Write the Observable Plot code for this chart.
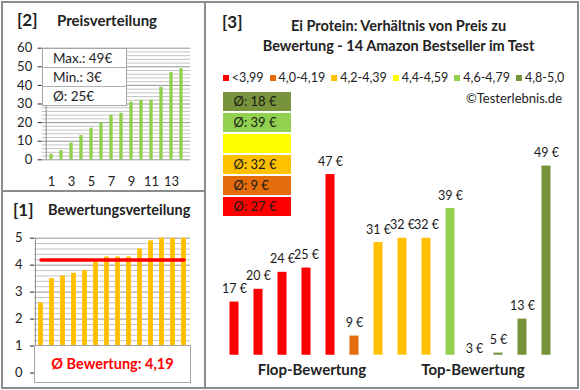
<!DOCTYPE html>
<html>
<head>
<meta charset="utf-8">
<script src="https://cdn.jsdelivr.net/npm/d3@7"></script>
<script src="https://cdn.jsdelivr.net/npm/@observablehq/plot@0.6"></script>
<style>
  body { margin: 0; background: #fff; }
  #root { position: relative; width: 580px; height: 390px; background: #fff; overflow: hidden;
          font-family: Lato, "Liberation Sans", sans-serif; color: #222; }
  .abs { position: absolute; }
  .ttl { font-weight: bold; white-space: nowrap; }
  .legend { display: flex; justify-content: center; align-items: center; gap: 6px; font-size: 12.5px; white-space: nowrap; }
  .legend > span { flex: none; white-space: nowrap; }
  .legend .sw { display: inline-block; width: 6px; height: 6px; margin-right: 3px; vertical-align: middle; }
  .statbox { border: 1px solid #a6a6a6; background: #fff; box-sizing: border-box; }
  .statbox div { height: 19px; line-height: 19px; padding-left: 10px; font-size: 13.5px; border-bottom: 1px solid #b0b0b0; box-sizing: border-box; }
  .statbox div:last-child { border-bottom: none; }
</style>
</head>
<body>
<div id="root"></div>
<script>
// ---------- data ----------
const prices  = [17, 20, 24, 25, 47, 9, 31, 32, 32, 39, 3, 5, 13, 49];
const ratings = [3.8, 3.7, 3.6, 3.5, 2.6, 4.1, 4.3, 4.3, 4.3, 4.6, 5.0, 5.0, 4.9, 5.0];
const classLabels = ["<3,99", "4,0-4,19", "4,2-4,39", "4,4-4,59", "4,6-4,79", "4,8-5,0"];
const classColors = ["#FF0000", "#E46C0A", "#FFC000", "#FFFF00", "#92D050", "#77933C"];
const classBreaks = [4.0, 4.2, 4.4, 4.6, 4.8];
const priceTicks = [0, 10, 20, 30, 40, 50, 60];
const ratingTicks = [0, 1, 2, 3, 4, 5];
const rankLabels = [1, 3, 5, 7, 9, 11, 13];
const chartTitle = ["Ei Protein: Verhältnis von Preis zu", "Bewertung - 14 Amazon Bestseller im Test"];

const FONT = 'Lato, "Liberation Sans", sans-serif';
const root = document.getElementById("root");

function add(html, style, cls) {
  const d = document.createElement("div");
  d.className = "abs " + (cls || "");
  Object.assign(d.style, style);
  d.innerHTML = html;
  root.appendChild(d);
  return d;
}
function place(svg, left, top) {
  const d = add("", {left: left + "px", top: top + "px"});
  d.appendChild(svg);
}

// products
const products = prices.map((p, i) => ({price: p, rating: ratings[i], cls: d3.bisectRight(classBreaks, ratings[i])}));
const sortedPrices = prices.slice().sort((a, b) => a - b).map((p, i) => ({rank: i + 1, price: p}));
const sortedRatings = ratings.slice().sort((a, b) => a - b).map((r, i) => ({rank: i + 1, rating: r}));
const meanPrice = d3.mean(prices);
const meanRating = d3.mean(ratings);

// ---------- panel [2] Preisverteilung ----------
add("[2]", {left: "17px", top: "9px", fontSize: "17px", lineHeight: "22px"}, "ttl");
add("Preisverteilung", {left: "57px", top: "11px", fontSize: "15px", lineHeight: "18px"}, "ttl");

const p2 = Plot.plot({
  width: 200, height: 150,
  marginLeft: 41.7, marginRight: 9.7, marginTop: 7.7, marginBottom: 30.7,
  style: {fontFamily: FONT, fontSize: "13px", color: "#222", background: "transparent"},
  color: {type: "identity"},
  x: {type: "band", domain: d3.range(1, 15), padding: 0, tickSize: 0, tickPadding: 17,
      tickFormat: d => rankLabels.includes(d) ? d : "", label: null},
  y: {domain: [0, 60], ticks: priceTicks, tickSize: 4, tickPadding: 6, label: null},
  marks: [
    Plot.ruleY(d3.range(0, 61, 2).filter(v => v % 10), {stroke: "#c4c4c4"}),
    Plot.ruleY(priceTicks, {stroke: "#959595"}),
    Plot.ruleX([1], {dx: -148.6 / 28, stroke: "#8c8c8c"}),
    Plot.barY(sortedPrices, {x: "rank", y: "price", fill: "#92D050", insetLeft: 3.3, insetRight: 3.3})
  ]
});
place(p2, 0, 40);

add(`<div>Max.: ${d3.max(prices)}€</div><div>Min.: ${d3.min(prices)}€</div><div>Ø: ${Math.round(meanPrice)}€</div>`,
  {left: "42px", top: "48px", width: "85px", height: "58px"}, "statbox");

// ---------- panel [1] Bewertungsverteilung ----------
add("[1]", {left: "13px", top: "199px", fontSize: "17px", lineHeight: "22px"}, "ttl");
add("Bewertungsverteilung", {left: "48px", top: "201px", fontSize: "14.5px", lineHeight: "18px"}, "ttl");

const p1 = Plot.plot({
  width: 200, height: 160,
  marginLeft: 34, marginRight: 10, marginTop: 12.7, marginBottom: 12.5,
  style: {fontFamily: FONT, fontSize: "13px", color: "#222", background: "transparent"},
  x: {type: "band", domain: d3.range(1, 15), padding: 0, axis: null},
  y: {domain: [0, 5], ticks: ratingTicks, tickFormat: d => String(d), tickSize: 4, tickPadding: 8, label: null},
  marks: [
    Plot.ruleY(d3.range(1, 25).map(v => v / 5).filter(v => Math.abs(v - Math.round(v)) > 1e-6), {stroke: "#c4c4c4"}),
    Plot.ruleY(ratingTicks, {stroke: "#959595"}),
    Plot.ruleX([1], {dx: -156 / 28, stroke: "#8c8c8c"}),
    Plot.barY(sortedRatings, {x: "rank", y: "rating", fill: "#FFC000", insetLeft: 3.1, insetRight: 3.1}),
    Plot.line(sortedRatings, {x: "rank", y: () => meanRating, stroke: "#FF0000", strokeWidth: 3.5})
  ]
});
place(p1, 0, 225);

add(`Ø Bewertung: ${meanRating.toFixed(2).replace(".", ",")}`,
  {left: "34px", top: "345px", width: "157px", height: "38px", lineHeight: "36px", textAlign: "center",
   color: "#FF0000", fontWeight: "bold", fontSize: "14.5px", border: "1px solid #a6a6a6", background: "#fff", boxSizing: "border-box"});

// ---------- panel [3] ----------
add("[3]", {left: "222px", top: "11px", fontSize: "17px", lineHeight: "22px"}, "ttl");
add(chartTitle.join("<br>"), {left: "211px", top: "16px", width: "375px", textAlign: "center",
  fontSize: "14.5px", lineHeight: "20px"}, "ttl");

add(classLabels.map((l, i) => `<span><span class="sw" style="background:${classColors[i]}"></span>${l}</span>`).join(""),
  {left: "206px", top: "68px", width: "375px", height: "18px"}, "legend");
add("©Testerlebnis.de", {left: "400px", width: "162px", top: "89px", textAlign: "right", fontSize: "13px", lineHeight: "18px"});

// average boxes per class
const classes = classLabels.map((label, i) => {
  const ps = products.filter(d => d.cls === i).map(d => d.price);
  return {label, color: classColors[i], avg: ps.length ? Math.round(d3.mean(ps)) : null};
});
const pBox = Plot.plot({
  width: 68, height: 128, margin: 0,
  style: {fontFamily: FONT, fontSize: "13px", color: "#222", background: "transparent"},
  color: {type: "identity"},
  x: {axis: null},
  y: {type: "band", domain: classLabels.slice().reverse(), padding: 0, axis: null},
  marks: [
    Plot.cell(classes, {y: "label", fill: "color", insetTop: 1, insetBottom: 1}),
    Plot.text(classes.filter(d => d.avg !== null), {y: "label", text: d => `Ø: ${d.avg} €`,
      frameAnchor: "left", dx: 10, textAnchor: "start", fill: "#1a1a1a", fontSize: 13})
  ]
});
place(pBox, 223, 90);

// main bars
const p3data = products.slice()
  .sort((a, b) => d3.ascending(a.cls, b.cls) || d3.ascending(a.price, b.price))
  .map((d, i) => ({...d, pos: i, color: classColors[d.cls]}));
const p3 = Plot.plot({
  width: 375, height: 245,
  marginLeft: 16.5, marginRight: 22.5, marginTop: 4.3, marginBottom: 30.3,
  style: {fontFamily: FONT, fontSize: "12.5px", color: "#222", background: "transparent", overflow: "visible"},
  color: {type: "identity"},
  x: {type: "band", domain: d3.range(14), padding: 0, axis: null},
  y: {domain: [4.5, 54], axis: null},
  marks: [
    Plot.barY(p3data, {x: "pos", y: "price", fill: "color", insetLeft: 7.5, insetRight: 7.5, clip: true}),
    Plot.text(p3data, {x: "pos", y: "price", text: d => `${d.price} €`, dy: -13, fill: "#1a1a1a"})
  ]
});
place(p3, 205, 140);

add("Flop-Bewertung", {left: "252px", width: "120px", top: "360px", textAlign: "center", fontSize: "15px", lineHeight: "18px"}, "ttl");
add("Top-Bewertung", {left: "413px", width: "120px", top: "360px", textAlign: "center", fontSize: "15px", lineHeight: "18px"}, "ttl");

// ---------- frame ----------
add("", {left: "1px", top: "1px", width: "578px", height: "388px", border: "2px solid #8c8c8c", boxSizing: "border-box", pointerEvents: "none"});
add("", {left: "204px", top: "1px", width: "2px", height: "388px", background: "#8c8c8c"});
add("", {left: "1px", top: "190px", width: "204px", height: "2px", background: "#8c8c8c"});
</script>
</body>
</html>
